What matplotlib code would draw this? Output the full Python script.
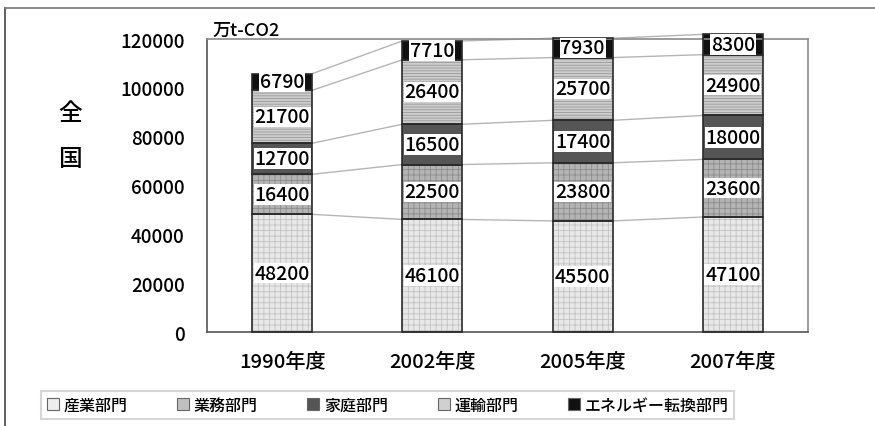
import numpy as np
import matplotlib.pyplot as plt
from matplotlib.patches import Patch
from matplotlib.lines import Line2D

plt.rcParams['font.family'] = ['Noto Sans CJK JP', 'DejaVu Sans']
plt.rcParams['font.weight'] = 'medium'
plt.rcParams['hatch.linewidth'] = 0.6

years = ['1990年度', '2002年度', '2005年度', '2007年度']
sectors = ['産業部門', '業務部門', '家庭部門', '運輸部門', 'エネルギー転換部門']

industry = [48200, 46100, 45500, 47100]
commercial = [16400, 22500, 23800, 23600]
household = [12700, 16500, 17400, 18000]
transport = [21700, 26400, 25700, 24900]
energy = [6790, 7710, 7930, 8300]

series = [industry, commercial, household, transport, energy]
faces = ['#e8e8e8', '#b4b4b4', '#555555', '#cdcdcd', '#111111']
hatch_cols = ['#c2c2c2', '#8c8c8c', '#555555', '#9a9a9a', '#111111']
hatches = ['+++', '+++', None, '------', None]
legend_faces = ['#eeeeee', '#c0c0c0', '#555555', '#d0d0d0', '#111111']

fig = plt.figure(figsize=(8.75, 4.27), dpi=100)
ax = fig.add_axes([0.2366, 0.2201, 0.6869, 0.6862])

x = np.arange(len(years))
w = 0.4
bottom = np.zeros(len(years))
tops = []
for vals, fc, hc, h in zip(series, faces, hatch_cols, hatches):
    vals = np.array(vals, dtype=float)
    ax.bar(x, vals, w, bottom=bottom, color=fc, edgecolor=hc, linewidth=0,
           hatch=h, clip_on=False, zorder=2)
    ax.bar(x, vals, w, bottom=bottom, fill=False, edgecolor='#2a2a2a',
           linewidth=1.2, clip_on=False, zorder=3)
    for xi, b, v in zip(x, bottom, vals):
        ax.text(xi, b + v / 2, f'{int(v)}', ha='center', va='center',
                fontsize=14, zorder=5,
                bbox=dict(facecolor='white', edgecolor='none', pad=0.6))
    bottom = bottom + vals
    tops.append(bottom.copy())

# series lines between bars
for t in tops:
    for i in range(len(years) - 1):
        ax.plot([x[i] + w / 2, x[i + 1] - w / 2], [t[i], t[i + 1]],
                color='#b5b5b5', linewidth=1, zorder=1, clip_on=False)

ax.set_xlim(-0.5, len(years) - 0.5)
ax.set_ylim(0, 120000)
ax.set_yticks(np.arange(0, 120001, 20000))
ax.set_xticks(x)
ax.set_xticklabels(years, fontsize=14.5)
ax.tick_params(axis='y', labelsize=13.5, length=0, pad=16)
ax.tick_params(axis='x', length=0, pad=14)
for s in ['top', 'right']:
    ax.spines[s].set_color('#8a8a8a')
for s in ['left', 'bottom']:
    ax.spines[s].set_color('#555555')
for s in ax.spines.values():
    s.set_linewidth(1.2)

fig.text(0.243, 0.928, '万t-CO2', fontsize=13, ha='left', va='center')
fig.text(0.080, 0.68, '全\n\n国', fontsize=17, ha='center', va='center',
         linespacing=1.0)

handles = [Patch(facecolor=fc, edgecolor='#666666', linewidth=0.8)
           for fc in legend_faces]
leg = fig.legend(handles, sectors, loc='center', bbox_to_anchor=(0.443, 0.049),
                 ncol=5, fontsize=11.5, frameon=True, fancybox=False,
                 handlelength=0.75, handleheight=0.75, handletextpad=0.3,
                 columnspacing=3.1, borderpad=0.35, borderaxespad=0)
leg.get_frame().set_edgecolor('#cccccc')
leg.get_frame().set_linewidth(1.5)

# outer frame of the picture
fig.add_artist(Line2D([0.006, 0.006], [0.0, 0.979], color='#444444',
                      linewidth=1.2, transform=fig.transFigure))
fig.add_artist(Line2D([0.006, 1.0], [0.979, 0.979], color='#777777',
                      linewidth=1.2, transform=fig.transFigure))

fig.savefig('out.png', dpi=100)
